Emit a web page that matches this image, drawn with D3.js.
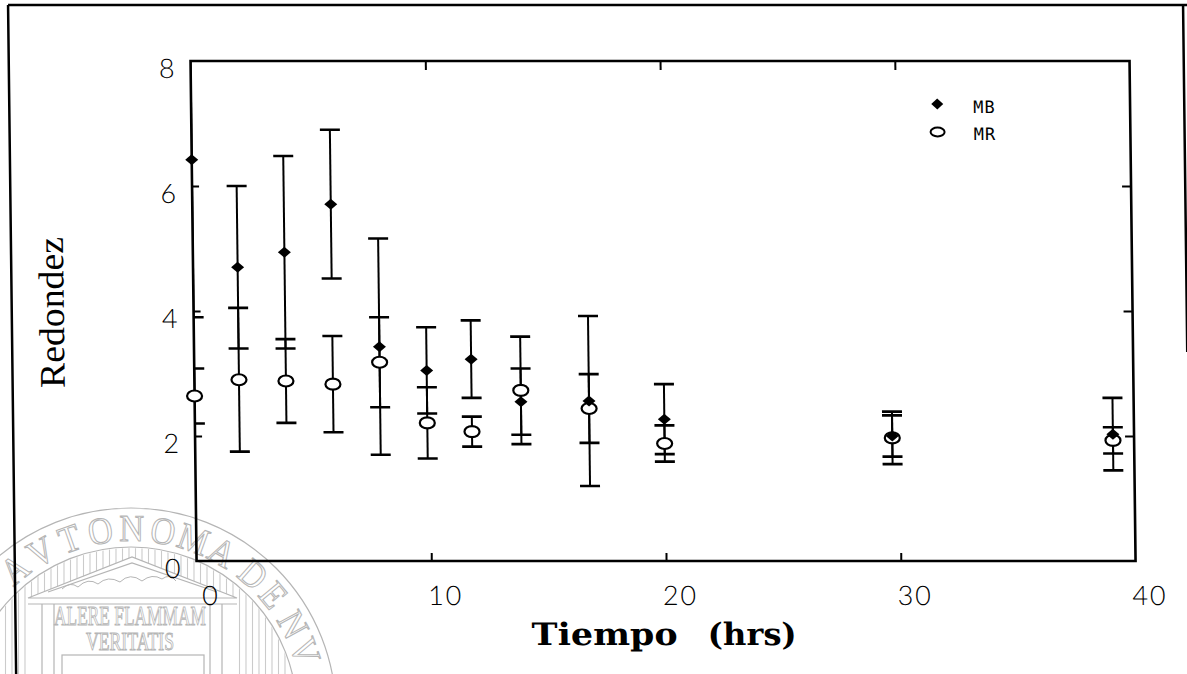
<!DOCTYPE html>
<html>
<head>
<meta charset="utf-8">
<script src="https://cdn.jsdelivr.net/npm/d3@7"></script>
<style>
  html, body { margin: 0; background: #fff; }
  svg { display: block; }
</style>
</head>
<body>
<svg id="fig" width="1187" height="674"></svg>
<script>
// Roundness (Redondez) over time, two media: MB and MR (mean ± error)
const timeHrs = [0, 1.9, 3.9, 5.9, 7.9, 9.9, 11.8, 13.9, 16.8, 20.0, 29.7, 39.1];
const mbMean  = [6.42, 4.70, 4.94, 5.71, 3.43, 3.05, 3.23, 2.55, 2.56, 2.27, 2.00, 2.03];
const mbErr   = [2.52, 1.30, 1.54, 1.19, 1.73, 0.69, 0.62, 0.53, 1.36, 0.56, 0.33, 0.58];
const mrMean  = [2.64, 2.90, 2.88, 2.83, 3.18, 2.21, 2.07, 2.73, 2.44, 1.88, 1.97, 1.93];
const mrErr   = [0.44, 1.15, 0.67, 0.77, 0.72, 0.57, 0.24, 0.86, 0.55, 0.29, 0.42, 0.21];
const seriesNames = ["MB", "MR"];

const xTickLabels = [0, 10, 20, 30, 40];
const yTickLabels = [0, 2, 4, 6, 8];
const xFrameTicks = [10, 20, 30];
const yFrameTicks = [2, 4, 6];

const svg = d3.select("#fig");
const defs = svg.append("defs");
const ink = "#000";

// ---------- faint university seal in the lower-left corner ----------
const sealGray = "#b5b5b5";
const sc = { x: 131, y: 713 };
const seal = svg.append("g").attr("fill", "none").attr("stroke", sealGray).attr("stroke-width", 1.2);

const templeOutline = "M28,598 L132,557 L237,598 L237,700 L28,700 Z";
const flutesMask = defs.append("mask").attr("id", "flutesMask");
flutesMask.append("circle").attr("cx", sc.x).attr("cy", sc.y).attr("r", 165).attr("fill", "#fff");
flutesMask.append("path").attr("d", templeOutline).attr("fill", "#000");

seal.append("g").attr("mask", "url(#flutesMask)")
  .selectAll("line").data(d3.range(-40, 320, 6.5)).join("line")
  .attr("x1", d => d).attr("x2", d => d).attr("y1", 520).attr("y2", 700)
  .attr("stroke", "#cbcbcb").attr("stroke-width", 1.1);

seal.append("circle").attr("cx", sc.x).attr("cy", sc.y).attr("r", 205);
seal.append("circle").attr("cx", sc.x).attr("cy", sc.y).attr("r", 166);

// pediment, frieze and columns
seal.append("path").attr("d", "M28,598 L132,557 L237,598 Z");
seal.append("path").attr("d", "M48,592 L132,563 L217,592");
seal.append("path").attr("d", "M28,604 H237");
seal.append("path").attr("d", "M42,604 V680 M54,604 V680 M210,604 V680 M222,604 V680");
seal.append("rect").attr("x", 62).attr("y", 655).attr("width", 142).attr("height", 40);
seal.append("path").attr("d", "M62,589 q8,-8 16,-2 q10,-10 20,-3 q10,-9 22,-2 q10,-10 22,-1 q10,-8 20,-2 q8,-6 14,2")
  .attr("stroke-width", 1);

// seal mottos
seal.append("text").text("ALERE FLAMMAM")
  .attr("x", 54).attr("y", 625).attr("textLength", 152).attr("lengthAdjust", "spacingAndGlyphs")
  .attr("font-family", "'Liberation Serif', serif").attr("font-size", 28).attr("stroke-width", 1);
seal.append("text").text("VERITATIS")
  .attr("x", 86).attr("y", 650).attr("textLength", 88).attr("lengthAdjust", "spacingAndGlyphs")
  .attr("font-family", "'Liberation Serif', serif").attr("font-size", 25).attr("stroke-width", 1);

// lettering around the ring (only the arc that lies on the sheet)
const ringText = "AVTONOMA DE NVEVO";
const ringR = 172;
const ringLetters = [];
{
  let a = 141, k = 0;
  for (const ch of ringText) {
    if (ch === " ") { a += 2; continue; }
    ringLetters.push({ ch, a });
    a += k < 8 ? 9.8 : 9;
    k++;
  }
}
const ringPos = d => {
  const phi = (90 + d.a) * Math.PI / 180;
  return [sc.x + ringR * Math.cos(phi), sc.y + ringR * Math.sin(phi)];
};
seal.append("g").selectAll("text")
  .data(ringLetters.filter(d => ringPos(d)[1] < 668))
  .join("text")
  .text(d => d.ch)
  .attr("transform", d => {
    const [px, py] = ringPos(d);
    return `translate(${px},${py}) rotate(${d.a + 180}) scale(0.9,1)`;
  })
  .attr("text-anchor", "middle")
  .attr("font-family", "'Liberation Serif', serif").attr("font-size", 38).attr("stroke-width", 1.1);

// ---------- figure (the whole sheet is slightly sheared) ----------
const root = svg.append("g").attr("transform", "skewX(0.69)");

// sheet border
root.append("path")
  .attr("d", "M8,5 H1187 M8,5 V680 M1183,5 V352")
  .attr("fill", "none").attr("stroke", ink).attr("stroke-width", 2.5);

const W = 939, H = 500;
const plot = root.append("g").attr("transform", "translate(189.8,61)");

const x = d3.scaleLinear().domain([0, 40]).range([0, W]);
const y = d3.scaleLinear().domain([0, 8]).range([H, 0]);

defs.append("clipPath").attr("id", "plotClip")
  .append("rect").attr("x", 0).attr("y", 0).attr("width", W).attr("height", H);

// frame ticks pointing inward
const frameAxes = [
  { gen: d3.axisBottom(x).tickValues(xFrameTicks).tickSize(-8), at: `translate(0,${H})` },
  { gen: d3.axisTop(x).tickValues(xFrameTicks).tickSize(-9), at: "translate(0,0)" },
  { gen: d3.axisLeft(y).tickValues(yFrameTicks).tickSize(-7), at: "translate(0,0)" },
  { gen: d3.axisRight(y).tickValues(yFrameTicks).tickSize(-9), at: `translate(${W},0)` }
];
frameAxes.forEach(a => {
  const g = plot.append("g").attr("transform", a.at).call(a.gen.tickFormat(""));
  g.select(".domain").remove();
  g.selectAll(".tick line").attr("stroke", ink).attr("stroke-width", 2);
});

plot.append("rect").attr("x", 0).attr("y", 0).attr("width", W).attr("height", H)
  .attr("fill", "none").attr("stroke", ink).attr("stroke-width", 2.6);

// tick labels
const tickFont = "Lato, 'Open Sans', 'DejaVu Sans', sans-serif";
plot.append("g").selectAll("text").data(xTickLabels).join("text")
  .attr("x", d => x(d) + 14).attr("y", H + 44)
  .attr("text-anchor", "middle")
  .attr("font-family", tickFont).attr("font-weight", 300).attr("font-size", 27)
  .attr("letter-spacing", 2).attr("fill", ink)
  .text(d => d);
plot.append("g").selectAll("text").data(yTickLabels).join("text")
  .attr("x", -24).attr("y", d => y(d) + 17)
  .attr("text-anchor", "middle")
  .attr("font-family", tickFont).attr("font-weight", 300).attr("font-size", 27)
  .attr("fill", ink)
  .text(d => d);

// data rows
const rows = timeHrs.map((t, i) => ({
  t, mb: mbMean[i], mbE: mbErr[i], mr: mrMean[i], mrE: mrErr[i]
}));

const capHalf = 10;
function errorBars(key, errKey) {
  const g = plot.append("g").attr("clip-path", "url(#plotClip)")
    .attr("stroke", ink).attr("fill", "none");
  g.selectAll("line.stem").data(rows).join("line").attr("class", "stem")
    .attr("x1", d => x(d.t)).attr("x2", d => x(d.t))
    .attr("y1", d => y(d[key] + d[errKey])).attr("y2", d => y(d[key] - d[errKey]))
    .attr("stroke-width", 2);
  g.selectAll("line.capHi").data(rows).join("line").attr("class", "capHi")
    .attr("x1", d => x(d.t) - capHalf).attr("x2", d => x(d.t) + capHalf)
    .attr("y1", d => y(d[key] + d[errKey])).attr("y2", d => y(d[key] + d[errKey]))
    .attr("stroke-width", 2.6);
  g.selectAll("line.capLo").data(rows).join("line").attr("class", "capLo")
    .attr("x1", d => x(d.t) - capHalf).attr("x2", d => x(d.t) + capHalf)
    .attr("y1", d => y(d[key] - d[errKey])).attr("y2", d => y(d[key] - d[errKey]))
    .attr("stroke-width", 2.6);
}
errorBars("mb", "mbE");
errorBars("mr", "mrE");

const diamond = (hw, hh) => `M0,${-hh} L${hw},0 L0,${hh} L${-hw},0 Z`;

// MR: open ellipses
plot.append("g").selectAll("ellipse").data(rows).join("ellipse")
  .attr("cx", d => x(d.t)).attr("cy", d => y(d.mr))
  .attr("rx", 7.5).attr("ry", 5.5)
  .attr("fill", "#fff").attr("stroke", ink).attr("stroke-width", 2.2);

// MB: filled diamonds
plot.append("g").selectAll("path").data(rows).join("path")
  .attr("transform", d => `translate(${x(d.t)},${y(d.mb)})`)
  .attr("d", diamond(6.5, 5.5))
  .attr("fill", ink);

// legend
const legend = root.append("g").attr("font-family", "'DejaVu Sans Mono', monospace")
  .attr("font-size", 17).attr("fill", ink);
legend.append("path").attr("transform", "translate(936,104)").attr("d", diamond(6, 5.5)).attr("fill", ink);
legend.append("ellipse").attr("cx", 936).attr("cy", 132).attr("rx", 7).attr("ry", 4.5)
  .attr("fill", "#fff").attr("stroke", ink).attr("stroke-width", 2);
legend.selectAll("text").data(seriesNames).join("text")
  .attr("x", 972).attr("y", (d, i) => 113 + i * 27)
  .attr("letter-spacing", 1)
  .text(d => d);

// axis titles
root.append("text")
  .attr("transform", "translate(60,312.5) rotate(-90)")
  .attr("text-anchor", "middle")
  .attr("font-family", "'Liberation Serif', 'DejaVu Serif', serif").attr("font-size", 36)
  .attr("textLength", 151).attr("lengthAdjust", "spacingAndGlyphs")
  .attr("fill", ink)
  .text("Redondez");

root.append("text")
  .attr("x", 524).attr("y", 645)
  .attr("font-family", "'DejaVu Serif', 'Liberation Serif', serif").attr("font-weight", "bold").attr("font-size", 31)
  .attr("textLength", 146).attr("lengthAdjust", "spacingAndGlyphs")
  .attr("fill", ink)
  .text("Tiempo");
root.append("text")
  .attr("x", 700).attr("y", 645)
  .attr("font-family", "'DejaVu Serif', 'Liberation Serif', serif").attr("font-weight", "bold").attr("font-size", 31)
  .attr("textLength", 89).attr("lengthAdjust", "spacingAndGlyphs")
  .attr("fill", ink)
  .text("(hrs)");
</script>
</body>
</html>
